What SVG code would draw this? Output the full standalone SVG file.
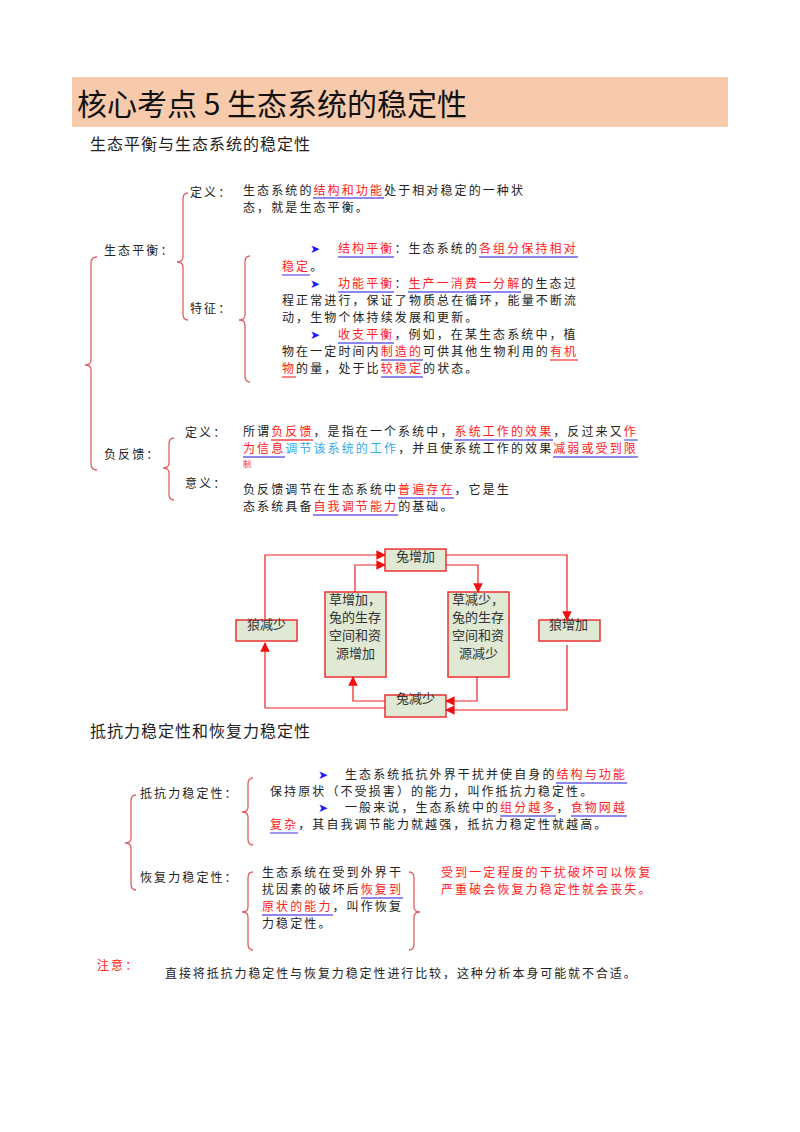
<svg xmlns="http://www.w3.org/2000/svg" width="800" height="1132" viewBox="0 0 800 1132">
<style>
.t{font-family:"Noto Sans CJK SC",sans-serif;font-size:12px;letter-spacing:2.1px;fill:#222}
.r{fill:#ff2020}
.c{fill:#33aaee}
.b{fill:#1a1aff;font-size:12px;letter-spacing:0}
.ul{stroke:#6a5fe8;stroke-width:1.3}
.ur{stroke:#ff4040;stroke-width:1.3}
.br{fill:none;stroke:#e06060;stroke-width:1.3}
.box{fill:#dfe9d3;stroke:#ee3030;stroke-width:1.5}
.bt{font-family:"Noto Sans CJK SC",sans-serif;font-size:13px;fill:#333}
.ln{fill:none;stroke:#ee2020;stroke-width:1.2}
.h2{font-family:"Noto Sans CJK SC",sans-serif;font-size:16px;fill:#222;letter-spacing:1px}
</style>
<defs><marker id="a" viewBox="0 0 10 10" refX="9" refY="5" markerWidth="8" markerHeight="8" orient="auto"><path d="M0,0L10,5L0,10z" fill="#ee1010"/></marker></defs>
<rect width="800" height="1132" fill="#fff"/>
<rect x="72" y="77" width="656" height="50" fill="#f7caac"/>
<text x="77" y="115" style="font-family:'Noto Sans CJK SC',sans-serif;font-size:30px;fill:#111">核心考点 5 生态系统的稳定性</text>
<text x="90" y="150" class="h2">生态平衡与生态系统的稳定性</text>

<g id="braces">
<path class="br" d="M97,257 Q91,257 91,263 L91,360 Q91,365 85,365 Q91,365 91,370 L91,464 Q91,470 97,470"/>
<path class="br" d="M188,193 Q183,193 183,199 L183,257 Q183,262 177,262 Q183,262 183,267 L183,314 Q183,320 188,320"/>
<path class="br" d="M250,256 Q245,256 245,262 L245,315 Q245,320 239,320 Q245,320 245,325 L245,376 Q245,382 250,382"/>
<path class="br" d="M174,438 Q169,438 169,444 L169,463 Q169,468 163,468 Q169,468 169,473 L169,494 Q169,500 174,500"/>
<path class="br" d="M136,795 Q131,795 131,801 L131,838 Q131,843 125,843 Q131,843 131,848 L131,884 Q131,890 136,890"/>
<path class="br" d="M253,778 Q248,778 248,784 L248,807 Q248,812 242,812 Q248,812 248,817 L248,839 Q248,845 253,845"/>
<path class="br" d="M253,872 Q248,872 248,878 L248,907 Q248,912 242,912 Q248,912 248,917 L248,944 Q248,950 253,950"/>
<path class="br" d="M409,872 Q414,872 414,878 L414,907 Q414,912 420,912 Q414,912 414,917 L414,944 Q414,950 409,950"/>
</g>

<g id="balance">
<text x="104" y="255" class="t">生态平衡：</text>
<text x="190" y="197" class="t">定义：</text>
<text x="190" y="313" class="t">特征：</text>
<text x="243" y="195" class="t">生态系统的<tspan class="r">结构和功能</tspan>处于相对稳定的一种状</text>
<text x="243" y="212" class="t">态，就是生态平衡。</text>
<text x="310" y="253" class="b">➤</text>
<text x="338" y="253" class="t"><tspan class="r">结构平衡</tspan>：生态系统的<tspan class="r">各组分保持相对</tspan></text>
<text x="282" y="271" class="t"><tspan class="r">稳定</tspan>。</text>
<text x="310" y="288" class="b">➤</text>
<text x="338" y="288" class="t"><tspan class="r">功能平衡</tspan>：<tspan class="r">生产一消费一分解</tspan>的生态过</text>
<text x="282" y="305" class="t">程正常进行，保证了物质总在循环，能量不断流</text>
<text x="282" y="322" class="t">动，生物个体持续发展和更新。</text>
<text x="310" y="339" class="b">➤</text>
<text x="338" y="339" class="t"><tspan class="r">收支平衡</tspan>，例如，在某生态系统中，植</text>
<text x="282" y="356" class="t">物在一定时间内<tspan class="r">制造的</tspan>可供其他生物利用的<tspan class="r">有机</tspan></text>
<text x="282" y="373" class="t"><tspan class="r">物</tspan>的量，处于比<tspan class="r">较稳定</tspan>的状态。</text>
<g>
<line class="ul" x1="313" y1="198" x2="384" y2="198"/>
<line class="ul" x1="338" y1="257" x2="394" y2="257"/>
<line class="ul" x1="479" y1="257" x2="578" y2="257"/>
<line class="ul" x1="282" y1="275" x2="310" y2="275"/>
<line class="ul" x1="338" y1="292" x2="394" y2="292"/>
<line class="ul" x1="408" y1="292" x2="521" y2="292"/>
<line class="ul" x1="338" y1="343" x2="394" y2="343"/>
<line class="ul" x1="381" y1="360" x2="423" y2="360"/>
<line class="ur" x1="550" y1="360" x2="578" y2="360"/>
<line class="ur" x1="282" y1="377" x2="296" y2="377"/>
<line class="ul" x1="381" y1="377" x2="423" y2="377"/>
</g>
</g>

<g id="feedback">
<text x="104" y="459" class="t">负反馈：</text>
<text x="185" y="437" class="t">定义：</text>
<text x="185" y="488" class="t">意义：</text>
<text x="243" y="436" class="t">所谓<tspan class="r">负反馈</tspan>，是指在一个系统中，<tspan class="r">系统工作的效果</tspan>，反过来又<tspan class="r">作</tspan></text>
<text x="243" y="453" class="t"><tspan class="r">为信息</tspan><tspan class="c">调节该系统的工作</tspan>，并且使系统工作的效果<tspan class="r">减弱或受到限</tspan></text>
<text x="243" y="467" style="font-family:'Noto Sans CJK SC',sans-serif;font-size:8px;fill:#ff2020">制</text>
<text x="243" y="494" class="t">负反馈调节在生态系统中<tspan class="r">普遍存在</tspan>，它是生</text>
<text x="243" y="511" class="t">态系统具备<tspan class="r">自我调节能力</tspan>的基础。</text>
<line class="ur" x1="271" y1="440" x2="313" y2="440"/>
<line class="ul" x1="454" y1="440" x2="553" y2="440"/>
<line class="ul" x1="624" y1="440" x2="638" y2="440"/>
<line class="ul" x1="243" y1="457" x2="285" y2="457"/>
<line class="ul" x1="553" y1="457" x2="638" y2="457"/>
<line class="ul" x1="398" y1="498" x2="454" y2="498"/>
<line class="ul" x1="313" y1="515" x2="398" y2="515"/>
</g>

<g id="n1"><rect class="box" x="385" y="549" width="61" height="22"/><text x="396" y="561" class="bt">兔增加</text></g>
<g id="n2"><rect class="box" x="325" y="592" width="61" height="85"/><text x="329" y="604" class="bt">草增加，</text><text x="329" y="622" class="bt">兔的生存</text><text x="329" y="640" class="bt">空间和资</text><text x="336" y="658" class="bt">源增加</text></g>
<g id="n3"><rect class="box" x="448" y="592" width="61" height="85"/><text x="452" y="604" class="bt">草减少，</text><text x="452" y="622" class="bt">兔的生存</text><text x="452" y="640" class="bt">空间和资</text><text x="459" y="658" class="bt">源减少</text></g>
<g id="n4"><rect class="box" x="236" y="620" width="61" height="21"/><text x="247" y="629" class="bt">狼减少</text></g>
<g id="n5"><rect class="box" x="539" y="620" width="61" height="21"/><text x="549" y="629" class="bt">狼增加</text></g>
<g id="n6"><rect class="box" x="385" y="695" width="61" height="22"/><text x="396" y="703" class="bt">兔减少</text></g>
<g id="connectors">
<path class="ln" marker-end="url(#a)" d="M265,620 L265,555 L385,555"/>
<path class="ln" marker-end="url(#a)" d="M355,592 L355,565 L385,565"/>
<path class="ln" marker-end="url(#a)" d="M446,555 L567,555 L567,620"/>
<path class="ln" marker-end="url(#a)" d="M446,565 L478,565 L478,592"/>
<path class="ln" marker-end="url(#a)" d="M477,677 L477,701 L446,701"/>
<path class="ln" marker-end="url(#a)" d="M567,645 L567,710 L446,710"/>
<path class="ln" marker-end="url(#a)" d="M385,701 L353,701 L353,677"/>
<path class="ln" marker-end="url(#a)" d="M385,708 L265,708 L265,643"/>
</g>

<text x="90" y="737" class="h2">抵抗力稳定性和恢复力稳定性</text>
<g id="stability">
<text x="140" y="798" class="t">抵抗力稳定性：</text>
<text x="140" y="882" class="t">恢复力稳定性：</text>
<text x="318" y="779" class="b">➤</text>
<text x="345" y="779" class="t">生态系统抵抗外界干扰并使自身的<tspan class="r">结构与功能</tspan></text>
<text x="270" y="796" class="t">保持原状（不受损害）的能力，叫作抵抗力稳定性。</text>
<text x="318" y="812" class="b">➤</text>
<text x="345" y="812" class="t">一般来说，生态系统中的<tspan class="r">组分越多</tspan>，<tspan class="r">食物网越</tspan></text>
<text x="270" y="829" class="t"><tspan class="r">复杂</tspan>，其自我调节能力就越强，抵抗力稳定性就越高。</text>
<text x="262" y="877" class="t">生态系统在受到外界干</text>
<text x="262" y="894" class="t">扰因素的破坏后<tspan class="r">恢复到</tspan></text>
<text x="262" y="911" class="t"><tspan class="r">原状的能力</tspan>，叫作恢复</text>
<text x="262" y="928" class="t">力稳定性。</text>
<text x="441" y="877" class="t r">受到一定程度的干扰破坏可以恢复</text>
<text x="441" y="894" class="t r">严重破会恢复力稳定性就会丧失。</text>
<text x="97" y="970" class="t r">注意：</text>
<text x="165" y="978" class="t" style="letter-spacing:1.9px">直接将抵抗力稳定性与恢复力稳定性进行比较，这种分析本身可能就不合适。</text>
<line class="ul" x1="556" y1="783" x2="627" y2="783"/>
<line class="ul" x1="500" y1="816" x2="556" y2="816"/>
<line class="ul" x1="571" y1="816" x2="627" y2="816"/>
<line class="ul" x1="270" y1="833" x2="298" y2="833"/>
<line class="ul" x1="361" y1="898" x2="403" y2="898"/>
<line class="ul" x1="262" y1="915" x2="333" y2="915"/>
</g>
</svg>
